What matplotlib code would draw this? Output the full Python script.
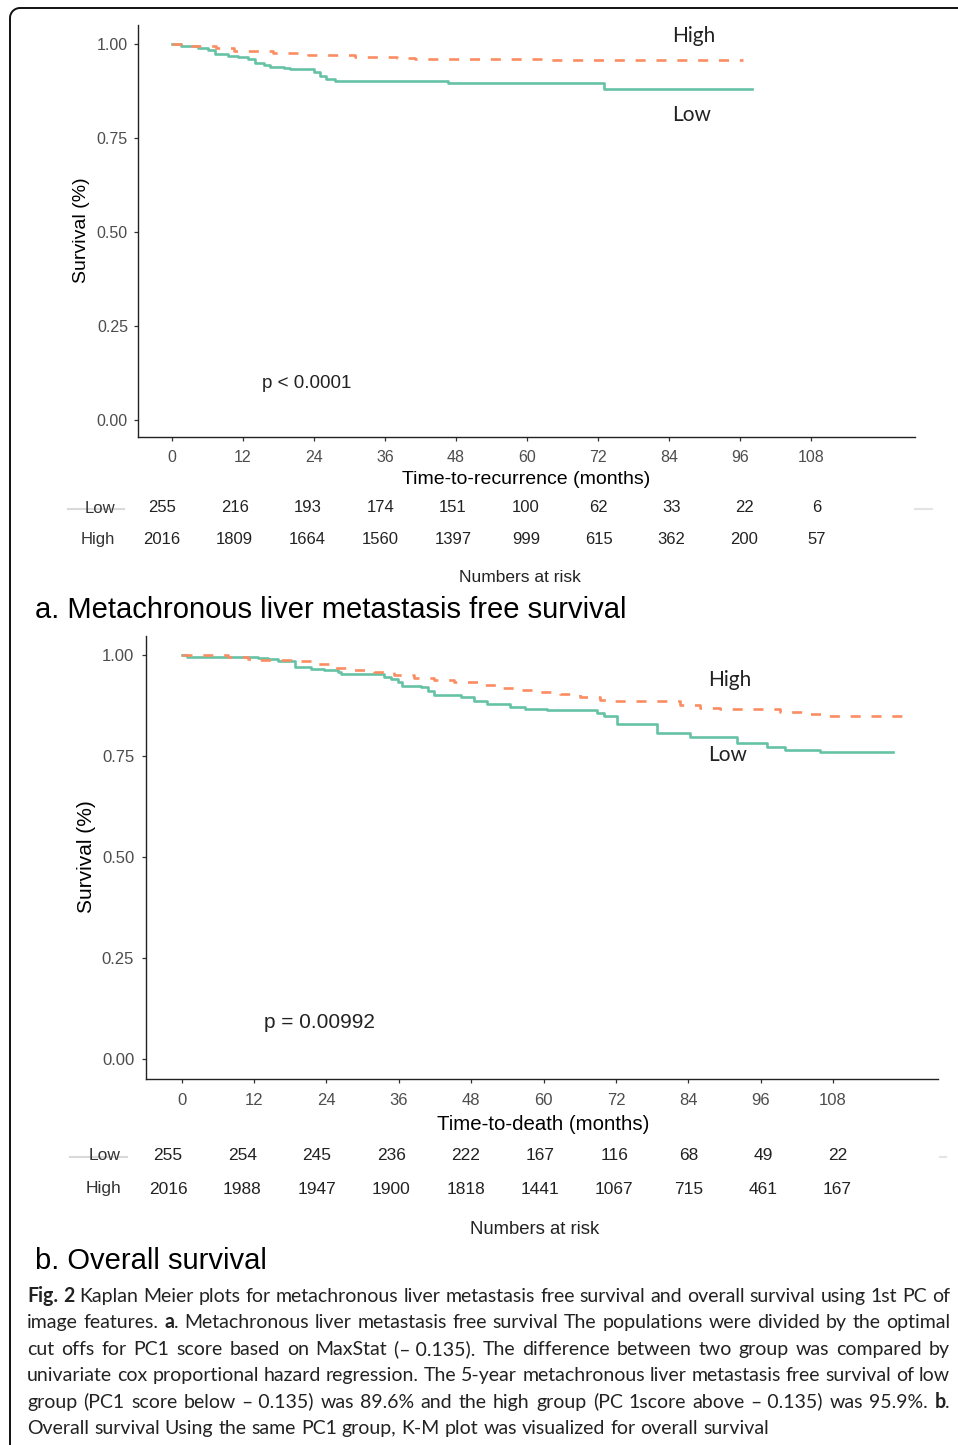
import matplotlib
matplotlib.use("Agg")
import matplotlib.pyplot as plt
from matplotlib import font_manager
from matplotlib.lines import Line2D
from matplotlib.transforms import IdentityTransform
import numpy as np

# ---------------- data ----------------
# Panel a: metachronous liver metastasis free survival
t_low_a = [0, 1.5, 4.4, 6, 7.3, 9.5, 11.2, 12.8, 14, 15.5, 16.5, 19, 20, 24, 25, 26, 27.5, 46.6, 73, 98]
s_low_a = [1.0, 0.995, 0.99, 0.985, 0.973, 0.968, 0.965, 0.96, 0.951, 0.945, 0.94, 0.936, 0.933,
           0.925, 0.915, 0.908, 0.903, 0.898, 0.882, 0.882]
t_high_a = [0, 1.5, 7.5, 10.5, 17, 23, 31, 38, 41, 62.7, 96.5]
s_high_a = [1.0, 0.995, 0.989, 0.983, 0.977, 0.972, 0.967, 0.964, 0.961, 0.957, 0.957]

# Panel b: overall survival
t_low_b = [0, 0.8, 12.7, 14.3, 16, 18.8, 21.5, 23.6, 25.9, 26.4, 33.6, 34.7, 35.8, 36.6, 39.7, 40.8,
           41.8, 46.3, 48.4, 50.7, 54.5, 57, 60.6, 68.9, 70, 72.2, 78.8, 84.3, 92, 97, 100, 105.8, 117.9]
s_low_b = [1.0, 0.996, 0.993, 0.989, 0.984, 0.970, 0.966, 0.962, 0.957, 0.953, 0.945, 0.940, 0.932,
           0.924, 0.920, 0.910, 0.900, 0.895, 0.887, 0.878, 0.871, 0.867, 0.864, 0.857, 0.849, 0.829,
           0.808, 0.798, 0.783, 0.773, 0.765, 0.759, 0.759]
t_high_b = [0, 7.7, 11, 12, 18.2, 21.5, 24.8, 28.6, 31.9, 35.2, 38.5, 41.8, 45.1, 49.1, 52.4, 55.7,
            59, 62.8, 66.1, 69.4, 71.9, 82.6, 85.9, 89.3, 99.2, 104.1, 107.4, 119.8]
s_high_b = [1.0, 0.995, 0.991, 0.987, 0.984, 0.978, 0.969, 0.962, 0.957, 0.950, 0.943, 0.939, 0.932,
            0.925, 0.918, 0.914, 0.908, 0.903, 0.895, 0.888, 0.885, 0.877, 0.868, 0.866, 0.860, 0.854,
            0.848, 0.848]

x_ticks = [0, 12, 24, 36, 48, 60, 72, 84, 96, 108]
y_ticks = [0.0, 0.25, 0.5, 0.75, 1.0]
y_ticklabels = ["0.00", "0.25", "0.50", "0.75", "1.00"]
groups = ["Low", "High"]

risk_low_a = [255, 216, 193, 174, 151, 100, 62, 33, 22, 6]
risk_high_a = [2016, 1809, 1664, 1560, 1397, 999, 615, 362, 200, 57]
risk_low_b = [255, 254, 245, 236, 222, 167, 116, 68, 49, 22]
risk_high_b = [2016, 1988, 1947, 1900, 1818, 1441, 1067, 715, 461, 167]

# ---------------- style ----------------
W, H = 958, 1445
GREEN = "#66C2A5"
ORANGE = "#FC8D62"
SANS = "Liberation Sans"
names = {f.name for f in font_manager.fontManager.ttflist}
LABF = "Lato" if "Lato" in names else SANS
CAPF = "Lato" if "Lato" in names else SANS
plt.rcParams["font.family"] = [SANS, "DejaVu Sans"]
plt.rcParams["lines.scale_dashes"] = False

fig = plt.figure(figsize=(W / 100, H / 100), dpi=100)


def fy(y):
    return 1 - y / H


def rect(l, t, r, b):
    return [l / W, 1 - b / H, (r - l) / W, (b - t) / H]


def ftext(x, y, s, **kw):
    return fig.text(x / W, fy(y), s, **kw)


def style_axes(ax, xl, yl, tsize, padx, pady):
    for sp in ["top", "right"]:
        ax.spines[sp].set_visible(False)
    for sp in ["left", "bottom"]:
        ax.spines[sp].set_color("#222222")
        ax.spines[sp].set_linewidth(1.0)
    ax.set_xlim(*xl)
    ax.set_ylim(*yl)
    ax.set_xticks(x_ticks)
    ax.set_xticklabels([str(v) for v in x_ticks])
    ax.set_yticks(y_ticks)
    ax.set_yticklabels(y_ticklabels)
    ax.tick_params(length=3, width=0.9, color="#333333", labelcolor="#4D4D4D",
                   labelsize=tsize)
    ax.tick_params(axis="x", pad=padx)
    ax.tick_params(axis="y", pad=pady)
    ax.set_facecolor("none")


# ---------------- panel a ----------------
axa = fig.add_axes(rect(138.3, 25, 915, 437.3))
axa.step(t_low_a, s_low_a, where="post", color=GREEN, lw=1.9)
axa.step(t_high_a, s_high_a, where="post", color=ORANGE, lw=1.9, dashes=(7.2, 7.8))
style_axes(axa, (-5.70, 125.6), (-0.046, 1.051), 11.5, 5.8, 4.5)

ftext(526.5, 479, "Time-to-recurrence (months)", fontsize=14, ha="center", va="center")
ftext(82, 230, "Survival (%)", fontsize=14, rotation=90, ha="center", va="center")
ftext(262, 383, "p < 0.0001", fontsize=13.5, ha="left", va="center", color="#222222")
ftext(672, 36, "High", fontsize=15, family=[LABF, "DejaVu Sans"], ha="left", va="center", color="#222222")
ftext(672, 115, "Low", fontsize=15, family=[LABF, "DejaVu Sans"], ha="left", va="center", color="#222222")

# risk table a
rka = fig.add_axes(rect(138, 490, 915, 560))
rka.axis("off")
rka.set_xlim((138 - 162) / 6.065, (915 - 162) / 6.065)
rka.set_ylim(-0.625, 1.5625)
for t, lo, hi in zip(x_ticks, risk_low_a, risk_high_a):
    rka.text(t, 1, str(lo), fontsize=12, ha="center", va="center", color="#222222")
    rka.text(t, 0, str(hi), fontsize=12, ha="center", va="center", color="#222222")

fig.add_artist(Line2D([68 / W, 124 / W], [fy(509), fy(509)], color="#d9d9d9", lw=1.5))
fig.add_artist(Line2D([915 / W, 932 / W], [fy(509), fy(509)], color="#e3e3e3", lw=1.5))
ftext(115, 508, groups[0], fontsize=12, ha="right", va="center", color="#333333")
ftext(115, 540, groups[1], fontsize=12, ha="right", va="center", color="#333333")
ftext(520, 577, "Numbers at risk", fontsize=12.5, ha="center", va="center", color="#222222")
ftext(35, 610, "a. Metachronous liver metastasis free survival", fontsize=21, ha="left", va="center")

# ---------------- panel b ----------------
axb = fig.add_axes(rect(146, 636, 938, 1079))
axb.step(t_low_b, s_low_b, where="post", color=GREEN, lw=1.9)
axb.step(t_high_b, s_high_b, where="post", color=ORANGE, lw=1.9, dashes=(7.2, 7.8))
style_axes(axb, (-5.92, 125.4), (-0.049, 1.047), 12, 7.0, 5.5)

ftext(543, 1124, "Time-to-death (months)", fontsize=14.7, ha="center", va="center")
ftext(86, 857, "Survival (%)", fontsize=15, rotation=90, ha="center", va="center")
ftext(264, 1022, "p = 0.00992", fontsize=15, ha="left", va="center", color="#222222")
ftext(708, 680, "High", fontsize=15, family=[LABF, "DejaVu Sans"], ha="left", va="center", color="#222222")
ftext(708, 755, "Low", fontsize=15, family=[LABF, "DejaVu Sans"], ha="left", va="center", color="#222222")

rkb = fig.add_axes(rect(146, 1135, 938, 1210))
rkb.axis("off")
rkb.set_xlim((146 - 168) / 6.2, (938 - 168) / 6.2)
rkb.set_ylim(-(1210 - 1189) / 34, 1 + (1155 - 1135) / 34)
for t, lo, hi in zip(x_ticks, risk_low_b, risk_high_b):
    rkb.text(t, 1, str(lo), fontsize=12.5, ha="center", va="center", color="#222222")
    rkb.text(t, 0, str(hi), fontsize=12.5, ha="center", va="center", color="#222222")

fig.add_artist(Line2D([70 / W, 127 / W], [fy(1157), fy(1157)], color="#d9d9d9", lw=1.5))
fig.add_artist(Line2D([940 / W, 946 / W], [fy(1157), fy(1157)], color="#e3e3e3", lw=1.5))
ftext(121, 1155, groups[0], fontsize=12.5, ha="right", va="center", color="#333333")
ftext(121, 1189, groups[1], fontsize=12.5, ha="right", va="center", color="#333333")
ftext(535, 1230, "Numbers at risk", fontsize=13.3, ha="center", va="center", color="#222222")
ftext(35, 1261, "b. Overall survival", fontsize=21, ha="left", va="center")

# ---------------- border ----------------
r = 10
ang = np.linspace(np.pi, np.pi / 2, 12)
bx = [10, 10] + list(10 + r + r * np.cos(ang)) + [W + 5]
by = [H + 5, 8 + r] + list(8 + r - r * np.sin(ang)) + [8]
fig.add_artist(Line2D(bx, [H - v for v in by], color="#111111", lw=1.4, transform=IdentityTransform()))

# ---------------- caption (justified) ----------------
NB = "\u00a0"
cap_lines = [
    [("Fig. 2", True), (" Kaplan Meier plots for metachronous liver metastasis free survival and overall survival using 1st PC of", False)],
    [("image features. ", False), ("a", True), (". Metachronous liver metastasis free survival The populations were divided by the optimal", False)],
    [("cut offs for PC1 score based on MaxStat (–" + NB + "0.135). The difference between two group was compared by", False)],
    [("univariate cox proportional hazard regression. The 5-year metachronous liver metastasis free survival of low", False)],
    [("group (PC1 score below –" + NB + "0.135) was 89.6% and the high group (PC 1score above –" + NB + "0.135) was 95.9%. ", False), ("b", True), (".", False)],
    [("Overall survival Using the same PC1 group, K-M plot was visualized for overall survival", False)],
]
cap_y = [1296, 1322.4, 1348.8, 1375.2, 1401.6, 1428]
LEFT, RIGHT = 27, 950

renderer = fig.canvas.get_renderer()
fs0 = 14.0


def tokenize(segs):
    toks = []
    prev_trail = False
    for text, bold in segs:
        words = text.split(" ")
        lead = text.startswith(" ")
        first = True
        for w in words:
            if w == "":
                continue
            sb = (lead or prev_trail) if first else True
            if not toks:
                sb = False
            toks.append([w, bold, sb])
            first = False
        prev_trail = text.endswith(" ")
    return toks


all_tokens = []
for segs, y in zip(cap_lines, cap_y):
    toks = tokenize(segs)
    arts = []
    for w, bold, sb in toks:
        t = ftext(LEFT, y + 6, w, fontsize=fs0, family=[CAPF, "DejaVu Sans"],
                  fontweight="bold" if bold else "normal", ha="left", va="baseline", color="#222222")
        arts.append((t, sb))
    all_tokens.append(arts)

probe1 = ftext(0, 0, "a a", fontsize=fs0, family=[CAPF, "DejaVu Sans"])
probe2 = ftext(0, 0, "aa", fontsize=fs0, family=[CAPF, "DejaVu Sans"])
sp0 = probe1.get_window_extent(renderer).width - probe2.get_window_extent(renderer).width
probe1.remove()
probe2.remove()

# fit the font size to the mean natural width of the justified lines
nat = []
for arts in all_tokens[:5]:
    wsum = sum(t.get_window_extent(renderer).width for t, _ in arts)
    g = sum(1 for _, sb in arts if sb)
    nat.append(wsum + g * sp0)
fs = fs0 * (RIGHT - LEFT) / (0.5 * (np.mean(nat) + max(nat)))
spw = sp0 * fs / fs0
for arts in all_tokens:
    for t, _ in arts:
        t.set_fontsize(fs)

for i, arts in enumerate(all_tokens):
    widths = [t.get_window_extent(renderer).width for t, _ in arts]
    ngap = sum(1 for _, sb in arts if sb)
    if i < len(all_tokens) - 1 and ngap > 0:
        gap = (RIGHT - LEFT - sum(widths)) / ngap
    else:
        gap = spw
    x = LEFT
    for (t, sb), wd in zip(arts, widths):
        if sb:
            x += gap
        t.set_x(x / W)
        x += wd

fig.savefig("out.png", dpi=100)
